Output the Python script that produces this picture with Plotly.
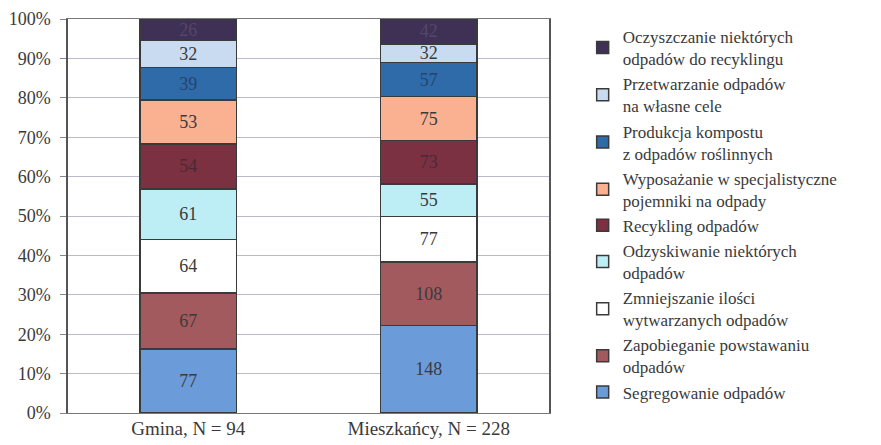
import plotly.graph_objects as go

categories = ["Gmina, N = 94", "Mieszkańcy, N = 228"]

series_names = [
    "Segregowanie odpadów",
    "Zapobieganie powstawaniu<br>odpadów",
    "Zmniejszanie ilości<br>wytwarzanych odpadów",
    "Odzyskiwanie niektórych<br>odpadów",
    "Recykling odpadów",
    "Wyposażanie w specjalistyczne<br>pojemniki na odpady",
    "Produkcja kompostu<br>z odpadów roślinnych",
    "Przetwarzanie odpadów<br>na własne cele",
    "Oczyszczanie niektórych<br>odpadów do recyklingu",
]

gmina = [77, 67, 64, 61, 54, 53, 39, 32, 26]
mieszkancy = [148, 108, 77, 55, 73, 75, 57, 32, 42]

colors = ["#6b9bd9", "#a35a5e", "#ffffff", "#bdeef6", "#7b3142",
          "#f9b191", "#2f6aa9", "#c9dbf1", "#3f3056"]
label_colors = ["#3a3a3a", "#3a3a3a", "#3a3a3a", "#3a3a3a", "#4a2a35",
                "#3a3a3a", "#24456e", "#3a3a3a", "#55466a"]

font_family = "Liberation Serif"
txt_col = "#3a3a3a"

fig = go.Figure()
for i, name in enumerate(series_names):
    vals = [gmina[i], mieszkancy[i]]
    fig.add_trace(go.Bar(
        x=categories, y=vals, name=name,
        text=[str(v) for v in vals], texttemplate="%{text}",
        textposition="inside", insidetextanchor="middle", textangle=0,
        textfont=dict(family=font_family, size=18, color=label_colors[i]),
        marker=dict(color=colors[i], line=dict(color="#3a3a3a", width=1.5)),
    ))

# page adds ~8px body margin, so the figure is a bit smaller than the window
fig.update_layout(
    width=873, height=437,
    barmode="stack", barnorm="percent", bargap=0.6,
    plot_bgcolor="white", paper_bgcolor="white",
    margin=dict(l=60, r=332, t=11, b=32, autoexpand=False),
    font=dict(family=font_family, size=18, color=txt_col),
    uniformtext=dict(minsize=18, mode="show"),
    showlegend=True,
    legend=dict(x=1.07, y=0.975, xanchor="left", yanchor="top",
                yref="container", maxheight=437,
                traceorder="reversed", tracegroupgap=0,
                font=dict(family=font_family, size=17, color=txt_col),
                itemwidth=30, bgcolor="rgba(0,0,0,0)"),
)

fig.update_yaxes(range=[0, 100], dtick=10, ticksuffix="%",
                 tickfont=dict(family=font_family, size=18, color=txt_col),
                 ticklabeloverflow="allow",
                 showgrid=True, gridcolor="#bdb8cc", gridwidth=1,
                 showline=True, linecolor="#555555", linewidth=1.5, mirror=True,
                 ticks="outside", ticklen=6, tickcolor="#888888",
                 ticklabelstandoff=6, zeroline=False, automargin=False)
fig.update_xaxes(showline=True, linecolor="#777777", linewidth=1.2, mirror=True,
                 ticks="", tickfont=dict(family=font_family, size=19, color=txt_col),
                 ticklabeloverflow="allow",
                 ticklabelstandoff=-2, automargin=False)

fig.write_html("out.html")
